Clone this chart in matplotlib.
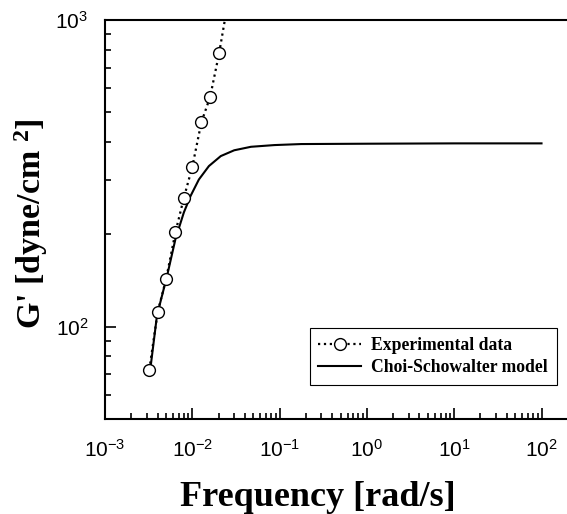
import matplotlib
matplotlib.use("Agg")
import matplotlib.pyplot as plt
from matplotlib.ticker import LogLocator, NullFormatter

freq_exp = [0.00322, 0.00401, 0.00501, 0.00641, 0.0080, 0.0100, 0.0127, 0.0160, 0.0203, 0.025]
g_exp = [72.5, 111.6, 143, 203, 263, 332, 464, 561, 780, 1100]

# Choi-Schowalter model curve
freq_model = [0.00324, 0.00394, 0.00515, 0.00641, 0.0080, 0.00955, 0.0119, 0.0155,
              0.0212, 0.0302, 0.047, 0.0873, 0.177, 1.0, 10.0, 100.0]
g_model = [69.5, 108.8, 146.8, 193, 235.7, 266.8, 302, 334,
           360, 376, 386, 391, 394, 395, 396, 396]

plt.rcParams["font.family"] = ["Liberation Sans", "DejaVu Sans"]
plt.rcParams["mathtext.fontset"] = "custom"
plt.rcParams["mathtext.rm"] = "Liberation Sans"
plt.rcParams["mathtext.default"] = "regular"

fig = plt.figure(figsize=(5.67, 5.14), dpi=100)
ax = fig.add_axes([105 / 567, 95 / 514, 462 / 567, 399 / 514])

n_exp = len(freq_exp) - 1
ax.plot(freq_exp[:n_exp], g_exp[:n_exp], linestyle=":", color="black", linewidth=1.6,
        marker="o", markersize=8.5, markerfacecolor="white", markeredgecolor="black",
        markeredgewidth=1.0, label="Experimental data", zorder=3)
ax.plot(freq_exp[n_exp - 1:], g_exp[n_exp - 1:], linestyle=":", color="black",
        linewidth=1.6, zorder=2)
ax.plot(freq_model, g_model, color="black", linewidth=1.5, label="Choi-Schowalter model")

ax.set_xscale("log")
ax.set_yscale("log")
ax.set_xlim(1e-3, 10 ** 2.292)
ax.set_ylim(50, 1000)

ax.xaxis.set_major_locator(LogLocator(base=10, numticks=10))
ax.xaxis.set_minor_locator(LogLocator(base=10, subs=range(2, 10), numticks=20))
ax.yaxis.set_minor_formatter(NullFormatter())
ax.xaxis.set_minor_formatter(NullFormatter())

for side in ["left", "bottom", "top"]:
    ax.spines[side].set_linewidth(1.5)
ax.spines["right"].set_visible(False)

ax.tick_params(which="both", direction="in", top=False, right=False,
               labelsize=15, width=1.2)
ax.tick_params(which="major", length=8)
ax.tick_params(which="minor", length=4)
ax.tick_params(axis="x", which="major", pad=14)
ax.tick_params(axis="y", which="major", pad=12)

ax.set_xlabel("Frequency [rad/s]", family="Liberation Serif", weight="bold", fontsize=26)
ax.set_ylabel("G' [dyne/cm $^{\\mathdefault{2}}$]", family="Liberation Serif",
              weight="bold", fontsize=24.5)
ax.xaxis.set_label_coords(0.461, -0.155)
ax.yaxis.set_label_coords(-0.12, 0.491)

leg = ax.legend(loc="lower right", bbox_to_anchor=(0.978, 0.085), fancybox=False,
                framealpha=1, edgecolor="black", handlelength=2.4,
                prop={"family": "Liberation Serif", "weight": "bold", "size": 12.7},
                borderpad=0.5, labelspacing=0.3, handletextpad=0.6, borderaxespad=0)
leg.get_frame().set_linewidth(0.8)

fig.savefig("out.png", dpi=100)
